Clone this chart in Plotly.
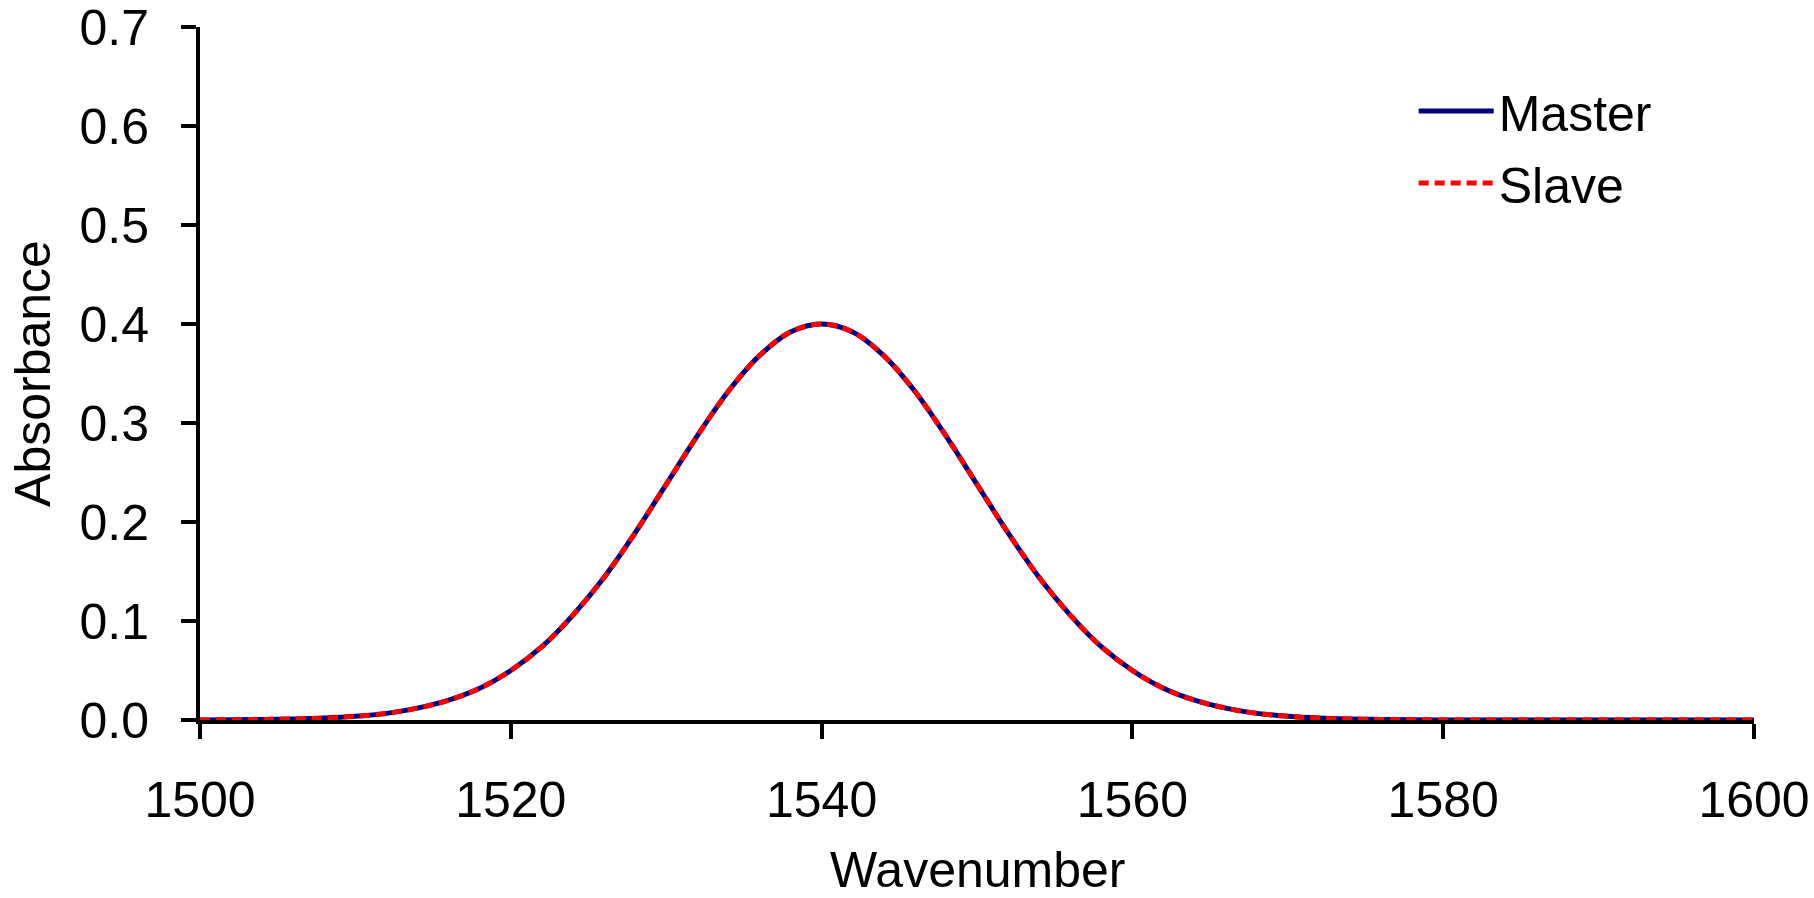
import plotly.graph_objects as go

wavenumber = list(range(1500, 1602, 2))
master = [0.0001, 0.0002, 0.0005, 0.0010, 0.0019, 0.0037, 0.0067, 0.012, 0.020, 0.032,
          0.050, 0.074, 0.106, 0.144, 0.189, 0.238, 0.287, 0.332, 0.368, 0.392,
          0.400,
          0.392, 0.368, 0.332, 0.287, 0.238, 0.189, 0.144, 0.106, 0.074, 0.050,
          0.032, 0.020, 0.012, 0.0067, 0.0037, 0.0019, 0.0010, 0.0005, 0.0002, 0.0001,
          0.0, 0.0, 0.0, 0.0, 0.0, 0.0, 0.0, 0.0, 0.0, 0.0]
slave = [0.0001, 0.0002, 0.0005, 0.0010, 0.0019, 0.0037, 0.0067, 0.012, 0.020, 0.032,
         0.050, 0.074, 0.106, 0.144, 0.189, 0.238, 0.287, 0.332, 0.368, 0.392,
         0.400,
         0.392, 0.368, 0.332, 0.287, 0.238, 0.189, 0.144, 0.106, 0.074, 0.050,
         0.032, 0.020, 0.012, 0.0067, 0.0037, 0.0019, 0.0010, 0.0005, 0.0002, 0.0001,
         0.0, 0.0, 0.0, 0.0, 0.0, 0.0, 0.0, 0.0, 0.0, 0.0]
x_ticks = [1500, 1520, 1540, 1560, 1580, 1600]
y_ticks = [0.0, 0.1, 0.2, 0.3, 0.4, 0.5, 0.6, 0.7]
y_tick_labels = ["0.0", "0.1", "0.2", "0.3", "0.4", "0.5", "0.6", "0.7"]

FONT = "Liberation Sans, Arial, sans-serif"
FS = 50

fig = go.Figure()
fig.add_trace(go.Scatter(x=wavenumber, y=master, mode="lines", name="Master",
                         legendgroup="m",
                         line=dict(color="#000080", width=5, shape="spline")))
fig.add_trace(go.Scatter(x=wavenumber, y=slave, mode="lines", name="Slave",
                         legendgroup="s",
                         line=dict(color="#FF0000", width=5, dash="10px,6px", shape="spline")))

axis_common = dict(showgrid=False, zeroline=False, showline=True, linecolor="black",
                   linewidth=4, ticks="outside", ticklen=15, tickwidth=4,
                   tickcolor="black", automargin=False, ticklabeloverflow="allow",
                   tickfont=dict(size=FS, color="black", family=FONT))

fig.update_layout(
    width=1814, height=898,
    margin=dict(l=200, r=60, t=27, b=178),
    plot_bgcolor="white", paper_bgcolor="white",
    font=dict(family=FONT, size=FS, color="black"),
    xaxis=dict(range=[1500, 1600], tickmode="array", tickvals=x_ticks, ticklabelstandoff=18,
               **axis_common),
    yaxis=dict(range=[0, 0.7], tickmode="array", tickvals=y_ticks, ticktext=y_tick_labels,
               ticklabelstandoff=22, **axis_common,
               title=dict(text="Absorbance", font=dict(size=FS), standoff=14)),
    legend=dict(x=0.781, y=0.935, xanchor="left", yanchor="top", tracegroupgap=4,
                itemwidth=75,
                font=dict(size=FS, family=FONT), bgcolor="rgba(0,0,0,0)"),
    annotations=[dict(text="Wavenumber", xref="paper", yref="paper", x=0.5, y=-0.217,
                      xanchor="center", yanchor="middle", showarrow=False,
                      font=dict(size=FS, family=FONT, color="black"))],
)

fig.write_html("out.html", config={"displayModeBar": False},
               post_script="document.body.style.margin='0';document.body.style.overflow='hidden';")
